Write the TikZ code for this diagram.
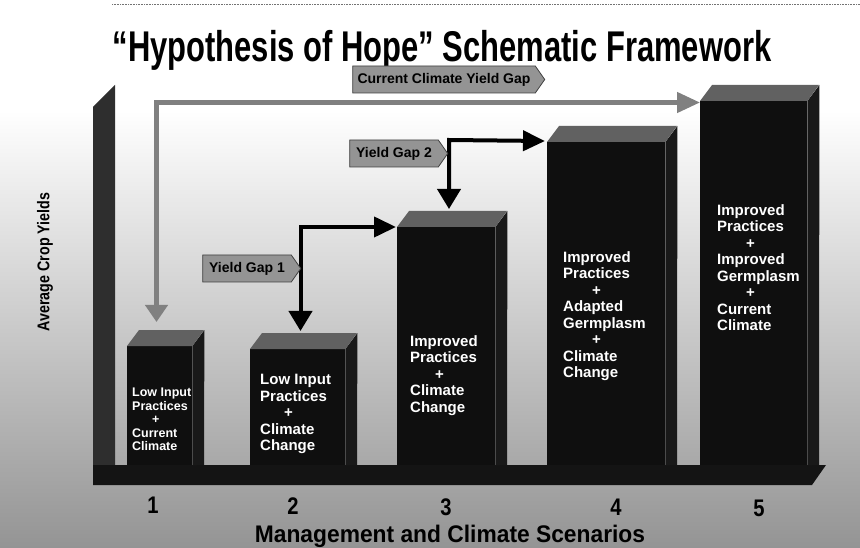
\documentclass[tikz,border=0pt]{standalone}
\usepackage{fontspec}
\setmainfont{Liberation Sans}
\newfontfamily\narrowsans[FakeStretch=0.72]{Liberation Sans}
\newfontfamily\axissans[FakeStretch=0.84]{Liberation Sans}
\newfontfamily\widesans[FakeStretch=0.95]{Liberation Sans}
\usetikzlibrary{shapes.symbols,arrows.meta,calc}

\begin{document}
\begin{tikzpicture}[x=1pt,y=-1pt,
  barfront/.style={fill=black!94, draw=none, inner sep=0pt, anchor=north west},
  bartop/.style={fill=black!62},
  barside/.style={fill=black!90},
  tag/.style={shape=signal, signal to=east, signal pointer angle=110,
    fill=black!42, draw=black!75, line width=0.8pt, minimum height=27pt,
    inner sep=0pt, text=black, font=\fontsize{14}{16}\selectfont\bfseries},
  bartext/.style={anchor=north west, inner sep=0pt, align=left, text=white,
    font=\fontsize{15}{16.5}\selectfont\bfseries},
  smalltext/.style={bartext, font=\fontsize{12.5}{13.5}\selectfont\bfseries},
  gaparrow/.style={line width=4.5pt, draw=black!50,
    {Triangle[length=17pt,width=22pt]}-{Triangle[length=23pt,width=20pt]}},
  steparrow/.style={line width=4pt, draw=black,
    {Triangle[length=20pt,width=23pt]}-{Triangle[length=22pt,width=20pt]}},
  scenario/.style={font=\axissans\fontsize{24}{26}\selectfont\bfseries},
]
% page and background
\useasboundingbox (0,0) rectangle (860,548);
\fill[white] (0,0) rectangle (860,548);
\shade[top color=white, bottom color=black!42] (0,110) rectangle (860,548);
\draw[black!55, densely dotted, line width=0.6pt] (112,4) -- (860,4);

% title
\node[font=\narrowsans\fontsize{43}{46}\selectfont\bfseries, anchor=base] (title) at (442,62)
  {“Hypothesis of Hope” Schematic Framework};

% chart frame: back wall and floor
\fill[black!82] (93,107) -- (115,85) -- (115,470) -- (93,483) -- cycle;
\fill[black!92] (93,465) -- (826,465) -- (812,485) -- (93,485) -- cycle;

% bars: front face, right side and top face
\foreach \n/\l/\r/\t in {1/127/204/346, 2/250/357/349, 3/397/507/227, 4/547/677/142, 5/700/819/101}{
  \pgfmathsetmacro{\w}{\r-12-\l}
  \pgfmathsetmacro{\h}{465-\t}
  \node[barfront, minimum width=\w pt, minimum height=\h pt] (bar\n) at (\l,\t) {};
  \fill[barside] (bar\n.north east) -- ++(12,-16) -- (\r,465) -- (bar\n.south east) -- cycle;
  \fill[bartop] (bar\n.north west) -- ++(12,-16) -- (\r,\t-16) -- (bar\n.north east) -- cycle;
}

% bar labels
\node[smalltext] (lab1) at (132,388)
  {Low Input\\Practices\\\hspace*{20pt}+\\Current\\Climate};
\node[bartext] (lab2) at (260,374)
  {Low Input\\Practices\\\hspace*{24pt}+\\Climate\\Change};
\node[bartext] (lab3) at (410,335)
  {Improved\\Practices\\\hspace*{25pt}+\\Climate\\Change};
\node[bartext] (lab4) at (563,251)
  {Improved\\Practices\\\hspace*{29pt}+\\Adapted\\Germplasm\\\hspace*{29pt}+\\Climate\\Change};
\node[bartext] (lab5) at (717,204)
  {Improved\\Practices\\\hspace*{29pt}+\\Improved\\Germplasm\\\hspace*{29pt}+\\Current\\Climate};

% yield gap connectors
\coordinate (gcorner) at (156.5,102.5);
\coordinate (gdown) at ($(bar1.north west)+(29.5,-24)$);
\coordinate (gright) at ($(bar5.north west)+(0,1.5)$);
\draw[gaparrow] (gdown) -- (gcorner) -- (gright);

\coordinate (y1corner) at (300.5,227);
\coordinate (y1down) at ($(bar2.north west)+(50.5,-18)$);
\coordinate (y1right) at ($(bar3.north west)+(-1,0)$);
\draw[steparrow] (y1down) -- (y1corner) -- (y1right);

\coordinate (y2corner) at (449,140);
\coordinate (y2down) at ($(bar3.north west)+(52,-18)$);
\coordinate (y2right) at ($(bar4.north west)+(-2,-1)$);
\draw[steparrow] (y2down) -- (y2corner) -- (y2right);

% gap tags
\node[tag, minimum width=192pt] (tagcur) at (444,79.5) {Current Climate Yield Gap};
\node[tag, minimum width=98pt] (tag2) at (394,153.5) {Yield Gap 2};
\node[tag, minimum width=98pt] (tag1) at (247,268.5) {Yield Gap 1};

% axes
\node[rotate=90, font=\axissans\fontsize{17}{19}\selectfont\bfseries] (ylab) at (45,262) {Average Crop Yields};
\node[font=\widesans\fontsize{24}{26}\selectfont\bfseries] (xlab) at (450,536) {Management and Climate Scenarios};
\node[scenario] (s1) at (153,505) {1};
\node[scenario] (s2) at (293,506) {2};
\node[scenario] (s3) at (446,507) {3};
\node[scenario] (s4) at (616,507) {4};
\node[scenario] (s5) at (759,508) {5};
\end{tikzpicture}
\end{document}
